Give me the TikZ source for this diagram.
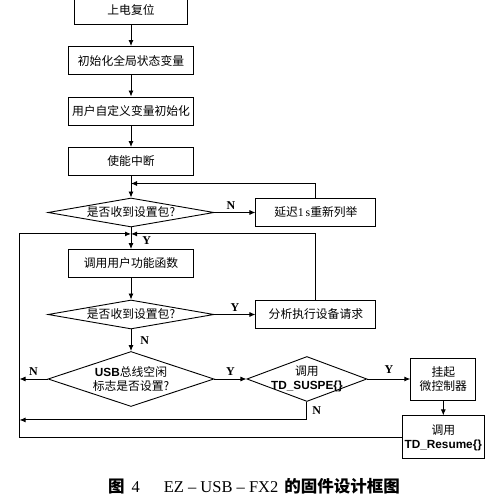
\documentclass[tikz,border=0pt]{standalone}
\usepackage{fontspec}
\setmainfont{Liberation Serif}
\setsansfont{Liberation Sans}
\newfontfamily\cjk{Noto Sans CJK SC}
\usetikzlibrary{shapes.geometric,arrows.meta,positioning,calc}
\newcommand{\en}[1]{{\sffamily\bfseries #1}}

\begin{document}
\begin{tikzpicture}[node distance=21.6pt and 41pt]
\tikzset{
  s/.style={rectangle, draw=black, line width=0.9pt, minimum width=125pt, minimum height=28pt,
            align=center, font=\cjk\fontsize{11.8}{14}\selectfont, inner sep=2pt},
  d/.style={diamond, aspect=5, draw=black, line width=0.9pt, minimum width=166pt, minimum height=29pt,
            align=center, font=\cjk\fontsize{11.8}{14}\selectfont, inner xsep=0pt, inner ysep=-5pt},
  l/.style={-{Latex[length=6pt,width=5pt]}, draw=black, line width=0.9pt},
  el/.style={font=\rmfamily\bfseries\fontsize{12}{13}\selectfont, inner sep=1pt}
}
\useasboundingbox (0,0) rectangle (500pt,503pt);

\node[s, minimum width=113pt] (reset) at (131pt,493pt) {上电复位};
\node[s, below=of reset] (initg) {初始化全局状态变量};
\node[s, below=of initg] (initu) {用户自定义变量初始化};
\node[s, below=of initu] (irq) {使能中断};
\node[d, below=of irq] (q1) {是否收到设置包?};
\node[s, below=of q1] (user) {调用用户功能函数};
\node[d, below=of user] (q2) {是否收到设置包?};
\node[d, below=of q2, aspect=3, minimum height=55pt] (q3) {\en{USB}总线空闲\\标志是否设置?};
\node[d, right=32pt of q3, aspect=2.67, minimum width=120pt, minimum height=45pt] (q4) {调用\\\en{TD\_SUSPE\{\}}};

% Side boxes
\node[s, right=of q1, minimum width=120pt] (delay) {延迟{\rmfamily 1\,s}重新列举};
\node[s, right=of q2, minimum width=120pt] (req) {分析执行设备请求};
\node[s, right=43pt of q4, minimum width=65pt, minimum height=42pt] (susp) {挂起\\微控制器};
\node[s, below=15pt of susp, minimum width=78pt, minimum height=43pt] (resume) {调用\\\en{TD\_Resume\{\}}};

% Junctions
\coordinate (j1) at ($(irq.south)!0.35!(q1.north)$);
\coordinate (j2) at ($(q1.south)!0.3!(user.north)$);
\coordinate (lx) at ($(q3.west)+(-28pt,0)$);
\coordinate (n4) at ($(q4.south)+(0,-18pt)$);

% Main spine
\draw[l] (reset) -- (initg);
\draw[l] (initg) -- (initu);
\draw[l] (initu) -- (irq);
\draw[l] (irq) -- (q1);
\draw[l] (q1) -- node[el, pos=0.62, right=10pt]{Y} (user);
\draw[l] (user) -- (q2);
\draw[l] (q2) -- node[el, right=8pt]{N} (q3);
\draw[l] (q3) -- node[el, above=2pt]{Y} (q4);
\draw[l] (q4) -- node[el, above=4pt]{Y} (susp);
\draw[l] (susp) -- (resume);

% Branches
\draw[l] (q1) -- node[el, pos=0.4, above=2pt]{N} (delay);
\draw[l] (q2) -- node[el, above=2pt]{Y} (req);
\draw[l] (delay.north) |- (j1);
\draw[l] (req.north) |- (j2);
\draw[l] (q3.west) -- node[el, above=2pt]{N} (q3.west -| lx);
\draw[l] (q4.south) -- node[el, right=4pt]{N} (n4) -- (n4 -| lx);

% Outer loop
\draw[l] (resume.west) -| (lx |- j2) -- (j2);

% Caption
\node[font=\fontsize{16.5}{18}\selectfont] (cap) at (254pt,16.5pt)
 {{\cjk\bfseries 图}\hspace{7pt}4\hspace{24pt}EZ – USB – FX2\hspace{6pt}{\cjk\bfseries 的固件设计框图}};
\end{tikzpicture}
\end{document}
